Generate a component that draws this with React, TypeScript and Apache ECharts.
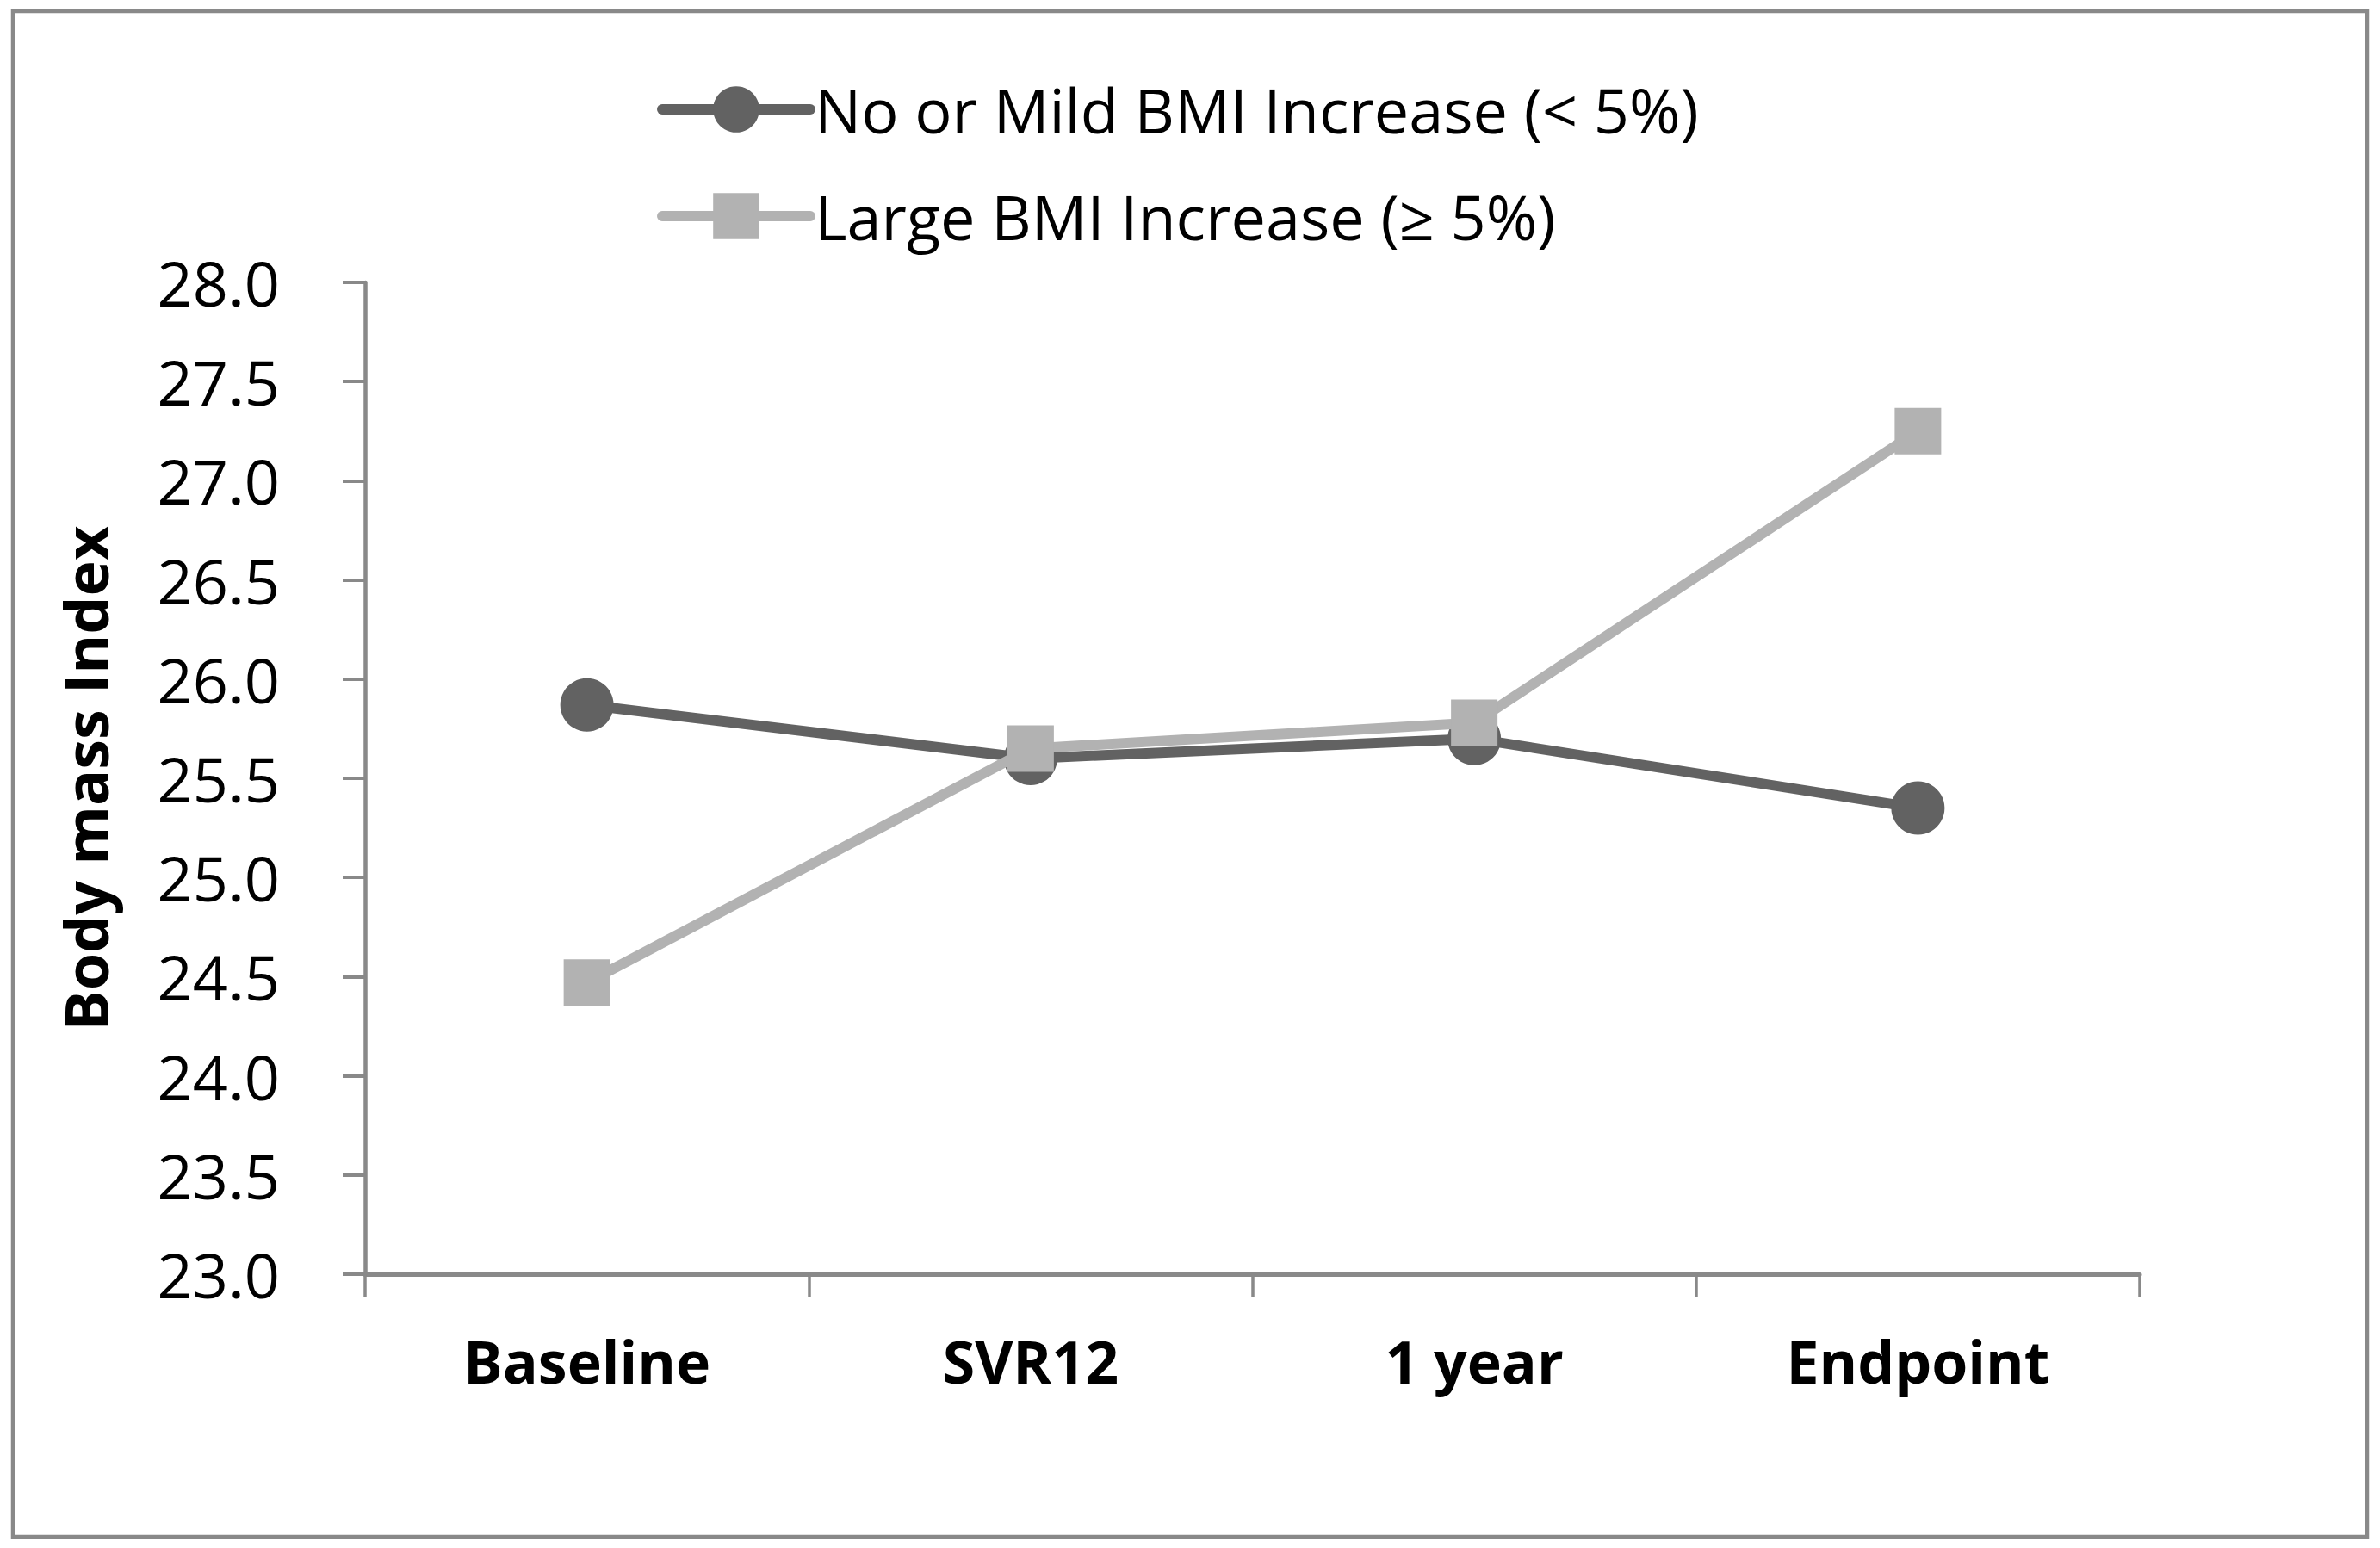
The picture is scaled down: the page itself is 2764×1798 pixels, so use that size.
import React, { useEffect, useRef } from "react";
import * as echarts from "echarts";

const categories = ["Baseline", "SVR12", "1 year", "Endpoint"];
const seriesNames = ["No or Mild BMI Increase (< 5%)", "Large BMI Increase (≥ 5%)"];
const mildValues = [25.87, 25.6, 25.7, 25.35];
const largeValues = [24.47, 25.65, 25.78, 27.25];
const yMin = 23;
const yMax = 28;
const yStep = 0.5;

const FONT = "'Open Sans', 'Noto Sans', sans-serif";
const AXIS = "#898989";
const DARK = "#626262";
const LIGHT = "#b2b2b2";

export default function App() {
  const ref = useRef<HTMLDivElement>(null);
  useEffect(() => {
    document.body.style.margin = "0";
    if (!ref.current) return;
    const chart = echarts.init(ref.current, undefined, { renderer: "svg" });
    chart.setOption({
      animation: false,
      backgroundColor: "#ffffff",
      graphic: [
        {
          type: "rect",
          shape: { x: 15, y: 13, width: 2734, height: 1772 },
          style: { fill: "none", stroke: AXIS, lineWidth: 4.5 },
          silent: true,
        },
      ],
      legend: {
        orient: "vertical",
        left: 758,
        top: 86,
        itemWidth: 172,
        itemHeight: 67,
        itemGap: 52,
        lineStyle: { width: 12, cap: "round" },
        textStyle: {
          fontFamily: FONT,
          fontSize: 72,
          color: "#000",
          lineHeight: 67,
          padding: [0, 0, 0, 0],
        },
        data: seriesNames,
      },
      grid: { left: 424, right: 279, top: 328, bottom: 318, containLabel: false },
      xAxis: {
        type: "category",
        data: categories,
        boundaryGap: true,
        axisLine: { show: true, lineStyle: { color: AXIS, width: 5 } },
        axisTick: { show: true, length: 26, lineStyle: { color: AXIS, width: 3.5 } },
        axisLabel: {
          margin: 66,
          fontFamily: FONT,
          fontWeight: "bold",
          fontSize: 68,
          color: "#000",
        },
        splitLine: { show: false },
      },
      yAxis: {
        type: "value",
        min: yMin,
        max: yMax,
        interval: yStep,
        name: "Body mass Index",
        nameLocation: "middle",
        nameGap: 290,
        nameRotate: 90,
        nameTextStyle: {
          fontFamily: FONT,
          fontWeight: "bold",
          fontSize: 70,
          color: "#000",
        },
        axisLine: { show: true, lineStyle: { color: AXIS, width: 4.5 } },
        axisTick: { show: true, length: 26, lineStyle: { color: AXIS, width: 4 } },
        axisLabel: {
          margin: 99,
          fontFamily: FONT,
          fontSize: 72,
          color: "#000",
          formatter: (v: number) => v.toFixed(1),
        },
        splitLine: { show: false },
      },
      series: [
        {
          name: seriesNames[0],
          type: "line",
          data: mildValues,
          symbol: "circle",
          symbolSize: 62,
          lineStyle: { color: DARK, width: 12 },
          itemStyle: { color: DARK },
          z: 2,
        },
        {
          name: seriesNames[1],
          type: "line",
          data: largeValues,
          symbol: "rect",
          symbolSize: 54,
          lineStyle: { color: LIGHT, width: 12 },
          itemStyle: { color: LIGHT },
          z: 3,
        },
      ],
    });
    return () => chart.dispose();
  }, []);
  return <div ref={ref} style={{ width: 2764, height: 1798 }} />;
}
